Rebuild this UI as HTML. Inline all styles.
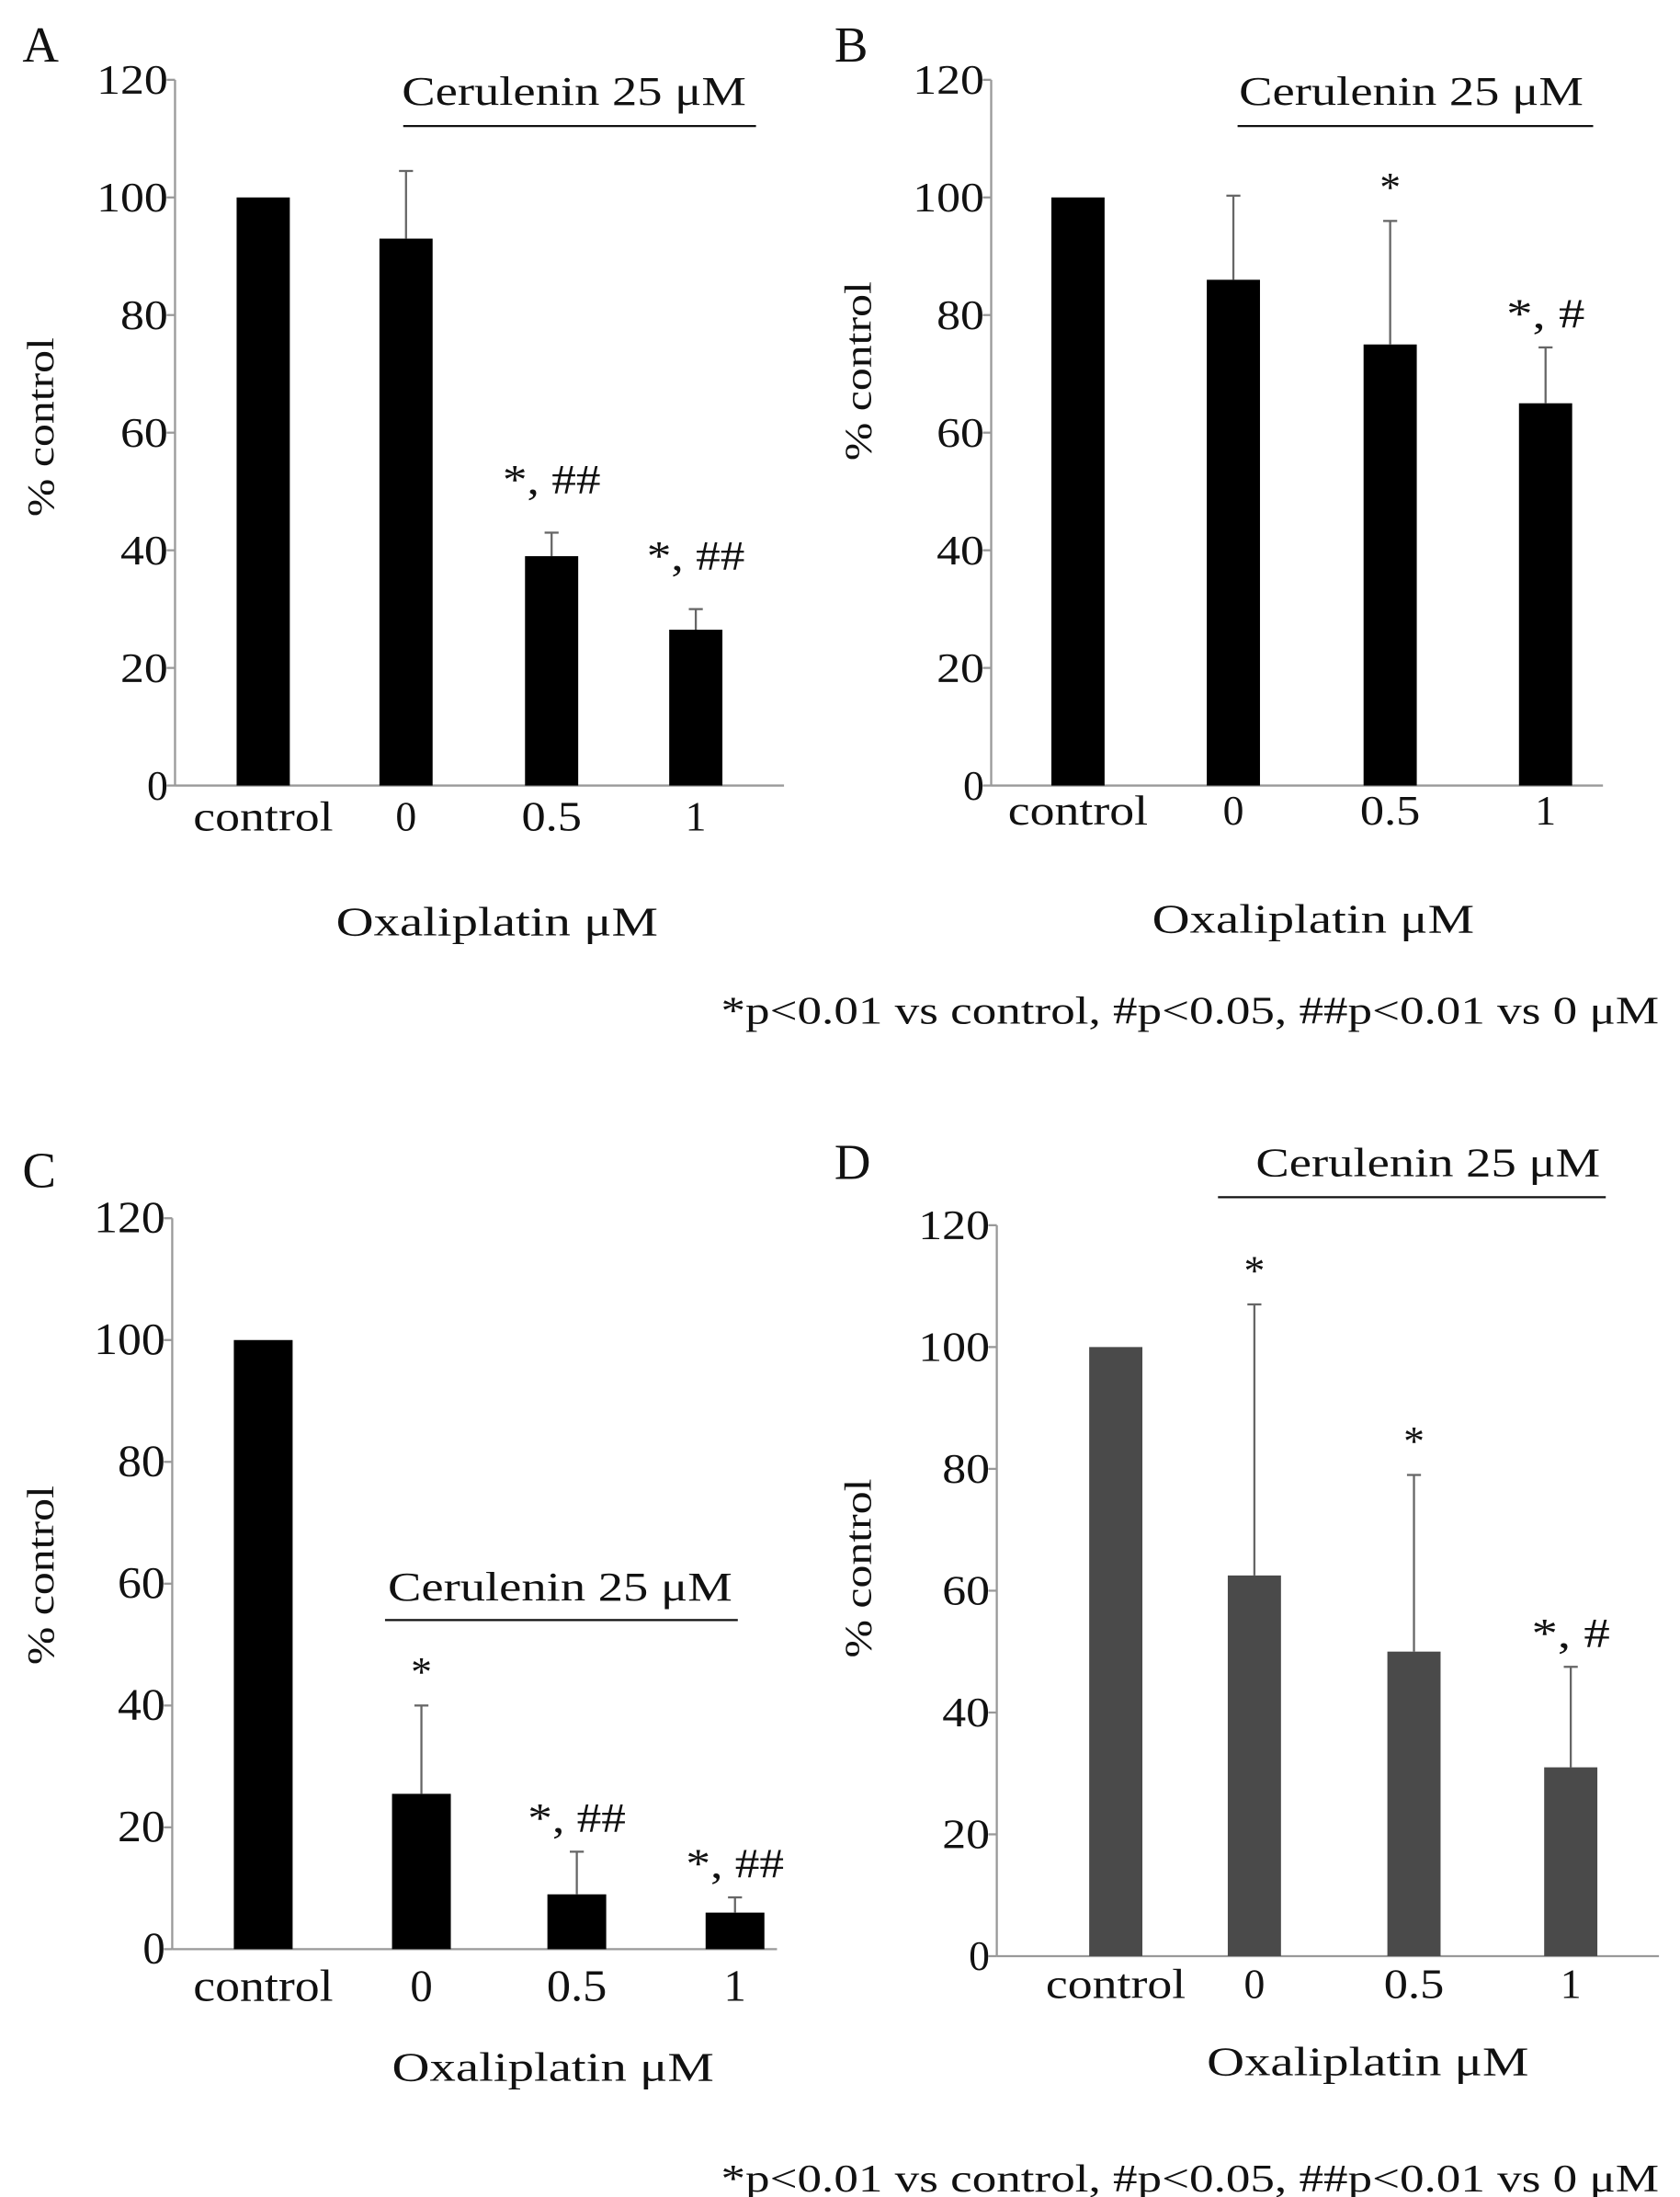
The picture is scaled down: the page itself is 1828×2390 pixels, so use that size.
<!DOCTYPE html>
<html><head><meta charset="utf-8"><style>
html,body{margin:0;padding:0;background:#fff}
svg{display:block}
text{font-family:"Liberation Serif",serif;fill:#111}
</style></head><body>
<svg id="fig" width="1828" height="2390" viewBox="0 0 1200 1569" xmlns="http://www.w3.org/2000/svg"></svg>
<script>
const categories = ["control","0","0.5","1"];
const yTicks = [0,20,40,60,80,100,120];
const valuesA = [100,93,39,26.5];
const errTopA = [100,104.5,43,30];
const annotA = ["","","*, ##","*, ##"];
const valuesB = [100,86,75,65];
const errTopB = [100,100.3,96,74.5];
const annotB = ["","","*","*, #"];
const valuesC = [100,25.5,9,6];
const errTopC = [100,40,16,8.5];
const annotC = ["","*","*, ##","*, ##"];
const valuesD = [100,62.5,50,31];
const errTopD = [100,107,79,47.5];
const annotD = ["","*","*","*, #"];

const svg = document.getElementById('fig');
const NS = "http://www.w3.org/2000/svg";
function mk(tag, attrs, txt){
  const e = document.createElementNS(NS, tag);
  for (const k in attrs) e.setAttribute(k, attrs[k]);
  if (txt !== undefined) e.textContent = txt;
  svg.appendChild(e);
  return e;
}
function fit(e, w){ if (w>0){ e.setAttribute('textLength', w); e.setAttribute('lengthAdjust','spacingAndGlyphs'); } }

const panels = [
 {id:'a', letter:'A', lx:16, ly:44, ax:125, xEnd:560, y0:561, y120:57, centers:[188,290,394,497], bw:38, vals:valuesA, errs:errTopA, ann:annotA, color:'#000', cer:{cx:410,y:75,x1:288,x2:540,ly:90}, catY:593, oxY:668, oxX:355, ylx:38, yly:305, annOff:[0,0,28,28], foot:null, fs:30, tw:17},
 {id:'b', letter:'B', lx:596, ly:44, ax:708, xEnd:1145, y0:561, y120:57, centers:[770,881,993,1104], bw:38, vals:valuesB, errs:errTopB, ann:annotB, color:'#000', cer:{cx:1008,y:75,x1:884,x2:1138,ly:90}, catY:589, oxY:666, oxX:938, ylx:622, yly:265, annOff:[0,0,14,14], foot:{x:1185,y:731}, fs:30, tw:17},
 {id:'c', letter:'C', lx:16, ly:848, ax:123, xEnd:555, y0:1392, y120:870, centers:[188,301,412,525], bw:42, vals:valuesC, errs:errTopC, ann:annotC, color:'#000', cer:{cx:400,y:1143,x1:275,x2:527,ly:1157}, catY:1429, oxY:1486, oxX:395, ylx:38, yly:1125, annOff:[0,14,14,14], foot:null, fs:32, tw:17},
 {id:'d', letter:'D', lx:596, ly:842, ax:712, xEnd:1185, y0:1397, y120:875, centers:[797,896,1010,1122], bw:38, vals:valuesD, errs:errTopD, ann:annotD, color:'#4a4a4a', cer:{cx:1020,y:840,x1:870,x2:1147,ly:855}, catY:1427, oxY:1482, oxX:977, ylx:622, yly:1120, annOff:[0,14,14,14], foot:{x:1185,y:1565}, fs:30, tw:17}
];
const catW = [100,0,43,0];

panels.forEach(p=>{
  const ys = v => p.y0 - (p.y0 - p.y120) * v / 120;
  let t = mk('text',{x:p.lx,y:p.ly,'font-size':36});
  t.textContent = p.letter;
  
  
  let l = mk('line',{x1:p.ax,y1:p.y120,x2:p.ax,y2:p.y0,stroke:'#999','stroke-width':1.5});
  
  
  l = mk('line',{x1:p.ax,y1:p.y0,x2:p.xEnd,y2:p.y0,stroke:'#999','stroke-width':1.5});
  
  
  yTicks.forEach(v=>{
    const tk = mk('line',{x1:p.ax-6,y1:ys(v),x2:p.ax,y2:ys(v),stroke:'#999','stroke-width':1.5});
    
    
    const s = String(v);
    const tl = mk('text',{x:p.ax-5,y:ys(v)+10,'font-size':p.fs,'text-anchor':'end'}, s);
    if (s.length>1) fit(tl, s.length*p.tw);
    
    
  });
  const yl = mk('text',{x:0,y:0,'font-size':27,'text-anchor':'middle',transform:`translate(${p.ylx},${p.yly}) rotate(-90)`},'% control');
  fit(yl,128);
  
  
  categories.forEach((c,i)=>{
    const cx = p.centers[i];
    const v = p.vals[i];
    const b = mk('rect',{x:cx-p.bw/2,y:ys(v),width:p.bw,height:p.y0-ys(v),fill:p.color});
    
    
    const e = p.errs[i];
    if (e > v + 0.5){
      const el = mk('line',{x1:cx,y1:ys(v),x2:cx,y2:ys(e),stroke:'#666','stroke-width':1.5});
      
      
      const ec = mk('line',{x1:cx-5,y1:ys(e),x2:cx+5,y2:ys(e),stroke:'#666','stroke-width':1.5});
      
      
    }
    if (p.ann[i]){
      const at = mk('text',{x:cx,y:ys(e)-p.annOff[i],'font-size':30,'text-anchor':'middle'},p.ann[i]);
      if (p.ann[i].length>2) fit(at, p.ann[i].length*14);
      
      
    }
    const cl = mk('text',{x:cx,y:p.catY,'font-size':p.fs,'text-anchor':'middle'},c);
    fit(cl, catW[i]);
    
    
  });
  const ct = mk('text',{x:p.cer.cx,y:p.cer.y,'font-size':29,'text-anchor':'middle'},'Cerulenin 25 μM');
  fit(ct,246);
  
  
  const cline = mk('line',{x1:p.cer.x1,y1:p.cer.ly,x2:p.cer.x2,y2:p.cer.ly,stroke:'#111','stroke-width':1.5});
  
  
  const ox = mk('text',{x:p.oxX,y:p.oxY,'font-size':29,'text-anchor':'middle'},'Oxaliplatin  μM');
  fit(ox,230);
  
  
  if (p.foot){
    const f = mk('text',{x:p.foot.x,y:p.foot.y,'font-size':28,'text-anchor':'end'},'*p<0.01 vs control, #p<0.05, ##p<0.01  vs 0 μM');
    fit(f,670);
    
    
  }
});
</script>
</body></html>
